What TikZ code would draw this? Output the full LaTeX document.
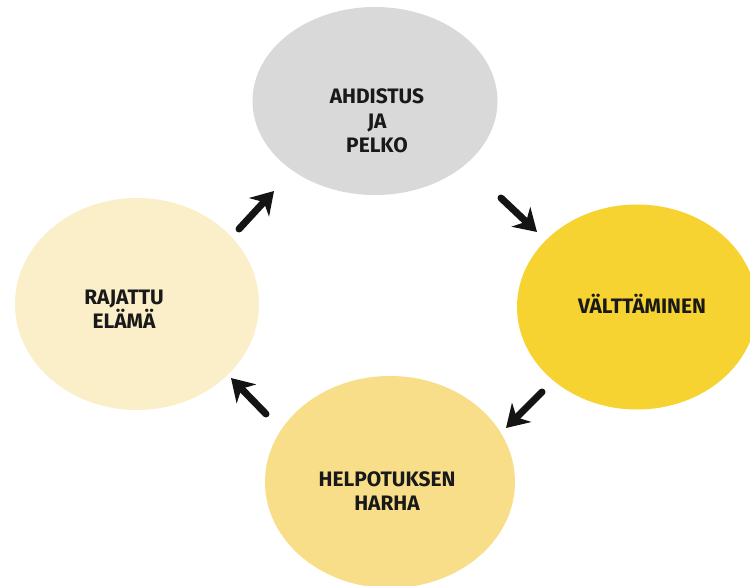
\documentclass[tikz,border=0pt]{standalone}
\usepackage{fontspec}
\setmainfont{Fira Sans}
\usetikzlibrary{arrows.meta,shapes.geometric}
\definecolor{fearGray}{HTML}{D9D9D9}
\definecolor{avoidYellow}{HTML}{F6D330}
\definecolor{reliefYellow}{HTML}{F8DE88}
\definecolor{limitCream}{HTML}{FBEFC9}
\tikzset{
  stage/.style={ellipse, inner sep=0pt, draw=none},
  stagetext/.style={font=\bfseries\fontsize{21}{24.5}\selectfont, align=center, text=black!90},
  cyclearrow/.style={line width=7bp, line cap=round, black!92,
    -{Stealth[length=22bp,width=27bp,inset=7bp]}}
}
\begin{document}
\begin{tikzpicture}[x=1bp,y=-1bp]
\useasboundingbox (0,0) rectangle (750,586);
\clip (0,0) rectangle (750,586);
\fill[white] (0,0) rectangle (750,586);
% the four stages of the cycle
\node[stage, fill=fearGray, minimum width=245bp, minimum height=188bp] (fear) at (375,101) {};
\node[stage, fill=avoidYellow, minimum width=240bp, minimum height=205bp] (avoid) at (637,307) {};
\node[stage, fill=reliefYellow, minimum width=250bp, minimum height=212bp] (relief) at (390,482) {};
\node[stage, fill=limitCream, minimum width=244bp, minimum height=212bp] (limit) at (137,304) {};
% labels
\node[stagetext] (feartext) at (377,121) {AHDISTUS\\JA\\PELKO};
\node[stagetext] (avoidtext) at (642,304) {VÄLTTÄMINEN};
\node[stagetext] (relieftext) at (387,491) {HELPOTUKSEN\\HARHA};
\node[stagetext] (limittext) at (124,309) {RAJATTU\\ELÄMÄ};
% arrow ends between neighbouring stages
\coordinate (a1s) at (239,229); \coordinate (a1e) at (274,191);
\coordinate (a2s) at (501,198); \coordinate (a2e) at (537,232);
\coordinate (a3s) at (542,392); \coordinate (a3e) at (506,428);
\coordinate (a4s) at (266,414); \coordinate (a4e) at (231,378);
\draw[cyclearrow] (a1s) -- (a1e);
\draw[cyclearrow] (a2s) -- (a2e);
\draw[cyclearrow] (a3s) -- (a3e);
\draw[cyclearrow] (a4s) -- (a4e);
\end{tikzpicture}
\end{document}
